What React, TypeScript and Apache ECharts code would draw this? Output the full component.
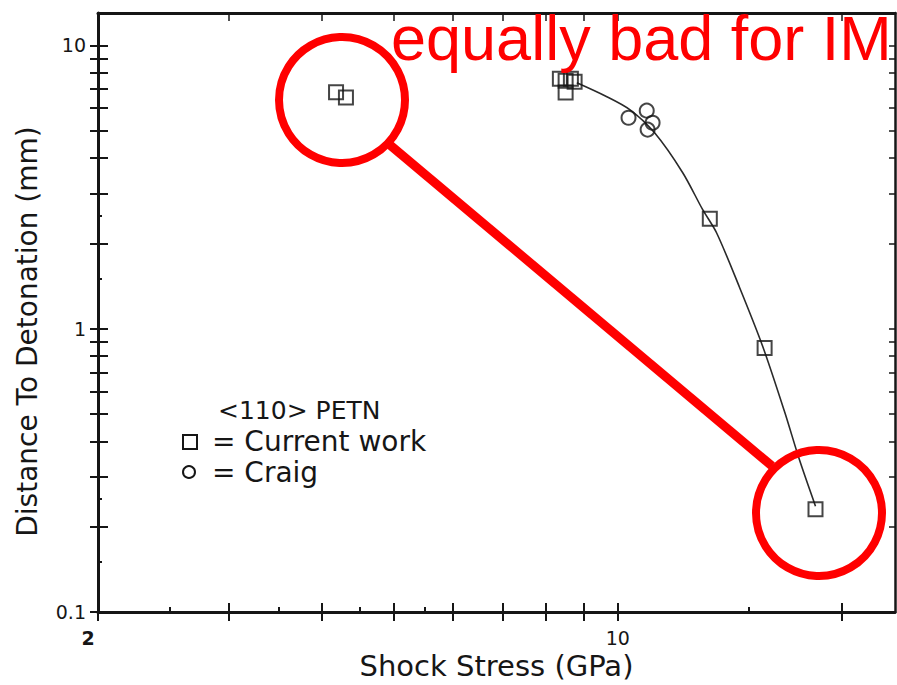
import React, { useEffect, useRef } from "react";
import * as echarts from "echarts";

// ---- data ----
const currentWorkX = [4.18, 4.31, 8.36, 8.51, 8.65, 8.75, 8.51, 13.3, 15.76, 18.45];
const currentWorkY = [6.83, 6.54, 7.62, 7.5, 7.62, 7.44, 6.81, 2.44, 0.855, 0.2306];
const craigX = [10.34, 10.94, 11.14, 10.97];
const craigY = [5.55, 5.88, 5.33, 5.04];
const fitX = [8.81, 9.61, 10.38, 11.21, 12.23, 13.01, 13.58, 14.58, 15.66, 16.77, 17.56, 18.45];
const fitY = [7.38, 6.64, 5.93, 4.91, 3.55, 2.63, 2.18, 1.4, 0.869, 0.508, 0.3436, 0.2363];

const xMajorTicks = [2, 3, 4, 5, 6, 7, 8, 9, 10, 20];
const xMinorTicks = [2.5, 3.5, 4.5, 5.5, 15];
const xLabels = [2, 10];
const yMajorTicks = [0.1, 0.2, 0.3, 0.4, 0.5, 0.6, 0.7, 0.8, 0.9, 1, 2, 3, 4, 5, 6, 7, 8, 9, 10];
const yMinorTicks = [0.15, 0.25, 1.5, 2.5];
const yLabels = [0.1, 1, 10];

const X_MIN = 2;
const X_MAX = 23.6;
const Y_MIN = 0.1;
const Y_MAX = 13;

const INK = "#161616";
const RED = "#ff0000";
const FONT = "DejaVu Sans";

export default function App() {
  const ref = useRef<HTMLDivElement>(null);

  useEffect(() => {
    if (!ref.current) return;
    const chart = echarts.init(ref.current, undefined, { renderer: "svg" });

    const zip = (xs: number[], ys: number[]) => xs.map((x, i) => [x, ys[i]]);

    const baseX = (extra: any) => ({
      type: "log",
      logBase: 10,
      min: X_MIN,
      max: X_MAX,
      gridIndex: 0,
      splitLine: { show: false },
      axisLine: { show: false },
      axisLabel: { show: false },
      axisTick: { show: false },
      ...extra,
    });
    const baseY = (extra: any) => ({
      type: "log",
      logBase: 10,
      min: Y_MIN,
      max: Y_MAX,
      gridIndex: 0,
      splitLine: { show: false },
      axisLine: { show: false },
      axisLabel: { show: false },
      axisTick: { show: false },
      ...extra,
    });

    chart.setOption({
      animation: false,
      backgroundColor: "#ffffff",
      grid: {
        left: 98,
        right: 2,
        top: 13,
        bottom: 73,
        containLabel: false,
        outerBoundsMode: "none",
      },
      xAxis: [
        baseX({
          position: "bottom",
          axisLine: { show: true, onZero: false, lineStyle: { color: INK, width: 3 } },
          axisTick: {
            show: true,
            inside: false,
            length: 9,
            customValues: xMajorTicks,
            lineStyle: { color: INK, width: 2 },
          },
          axisLabel: {
            show: true,
            customValues: xLabels,
            margin: 16,
            color: INK,
            fontFamily: FONT,
            fontSize: 19,
            formatter: (v: number) => (v === 2 ? "{l|2}" : String(v)),
            rich: { l: { padding: [0, 20, 0, 0], fontFamily: FONT, fontSize: 19, color: INK, fontWeight: "bold" } },
          },
          name: "Shock Stress (GPa)",
          nameLocation: "middle",
          nameGap: 39,
          nameTextStyle: { color: INK, fontFamily: FONT, fontSize: 29 },
        }),
        baseX({
          position: "bottom",
          axisTick: {
            show: true,
            inside: true,
            length: 9,
            customValues: xMajorTicks,
            lineStyle: { color: INK, width: 2 },
          },
        }),
        baseX({
          position: "bottom",
          axisTick: {
            show: true,
            inside: true,
            length: 5,
            customValues: xMinorTicks,
            lineStyle: { color: INK, width: 2 },
          },
        }),
        baseX({
          position: "top",
          axisLine: { show: true, onZero: false, lineStyle: { color: INK, width: 3 } },
          axisTick: {
            show: true,
            inside: true,
            length: 8,
            customValues: xMajorTicks,
            lineStyle: { color: INK, width: 1.5 },
          },
        }),
      ],
      yAxis: [
        baseY({
          position: "left",
          axisLine: { show: true, onZero: false, lineStyle: { color: INK, width: 3 } },
          axisTick: {
            show: true,
            inside: false,
            length: 8,
            customValues: yMajorTicks,
            lineStyle: { color: INK, width: 2 },
          },
          axisLabel: {
            show: true,
            customValues: yLabels,
            margin: 12,
            color: INK,
            fontFamily: FONT,
            fontSize: 19,
            formatter: (v: number) => String(v),
          },
          name: "Distance To Detonation (mm)",
          nameLocation: "middle",
          nameGap: 57,
          nameRotate: 90,
          nameTextStyle: { color: INK, fontFamily: FONT, fontSize: 28, padding: [0, 38, 0, 0] },
        }),
        baseY({
          position: "left",
          axisTick: {
            show: true,
            inside: true,
            length: 10,
            customValues: yMajorTicks,
            lineStyle: { color: INK, width: 2 },
          },
        }),
        baseY({
          position: "left",
          axisTick: {
            show: true,
            inside: true,
            length: 4,
            customValues: yMinorTicks,
            lineStyle: { color: INK, width: 2 },
          },
        }),
        baseY({
          position: "right",
          axisLine: { show: true, onZero: false, lineStyle: { color: INK, width: 2.5 } },
          axisTick: {
            show: true,
            inside: true,
            length: 6,
            customValues: yMajorTicks,
            lineStyle: { color: INK, width: 1.5 },
          },
        }),
      ],
      series: [
        {
          name: "fit",
          type: "line",
          xAxisIndex: 0,
          yAxisIndex: 0,
          data: zip(fitX, fitY),
          smooth: 0.3,
          showSymbol: false,
          symbol: "none",
          lineStyle: { color: "#2a2a2a", width: 1.6 },
          z: 2,
        },
        {
          name: "Current work",
          type: "scatter",
          xAxisIndex: 0,
          yAxisIndex: 0,
          data: zip(currentWorkX, currentWorkY),
          symbol: "rect",
          symbolSize: 14,
          itemStyle: { color: "transparent", borderColor: INK, borderWidth: 2 },
          z: 3,
        },
        {
          name: "Craig",
          type: "scatter",
          xAxisIndex: 0,
          yAxisIndex: 0,
          data: zip(craigX, craigY),
          symbol: "circle",
          symbolSize: 14,
          itemStyle: { color: "transparent", borderColor: INK, borderWidth: 2 },
          z: 3,
        },
      ],
      graphic: [
        {
          type: "text",
          left: 218,
          top: 398,
          style: { text: "<110> PETN", fill: INK, fontFamily: FONT, fontSize: 25 },
        },
        {
          type: "rect",
          shape: { x: 183, y: 435, width: 14, height: 14 },
          style: { fill: "none", stroke: INK, lineWidth: 2 },
        },
        {
          type: "text",
          left: 212,
          top: 427,
          style: { text: "= Current work", fill: INK, fontFamily: FONT, fontSize: 28 },
        },
        {
          type: "circle",
          shape: { cx: 189, cy: 472, r: 6 },
          style: { fill: "none", stroke: INK, lineWidth: 2 },
        },
        {
          type: "text",
          left: 212,
          top: 458,
          style: { text: "= Craig", fill: INK, fontFamily: FONT, fontSize: 28 },
        },
        {
          type: "circle",
          z: 100,
          shape: { cx: 342, cy: 100, r: 63 },
          style: { fill: "none", stroke: RED, lineWidth: 8 },
        },
        {
          type: "circle",
          z: 100,
          shape: { cx: 819, cy: 513, r: 63 },
          style: { fill: "none", stroke: RED, lineWidth: 8 },
        },
        {
          type: "line",
          z: 100,
          shape: { x1: 390, y1: 145, x2: 772, y2: 466 },
          style: { stroke: RED, lineWidth: 9 },
        },
        {
          type: "text",
          z: 101,
          x: 391,
          y: 38,
          style: {
            text: "equally bad for IM",
            fill: RED,
            fontFamily: "Liberation Sans",
            fontSize: 63,
            verticalAlign: "middle",
          },
        },
      ],
    });

    return () => chart.dispose();
  }, []);

  return (
    <div
      ref={ref}
      style={{ position: "absolute", left: 0, top: 0, width: 897, height: 685, background: "#fff" }}
    />
  );
}
